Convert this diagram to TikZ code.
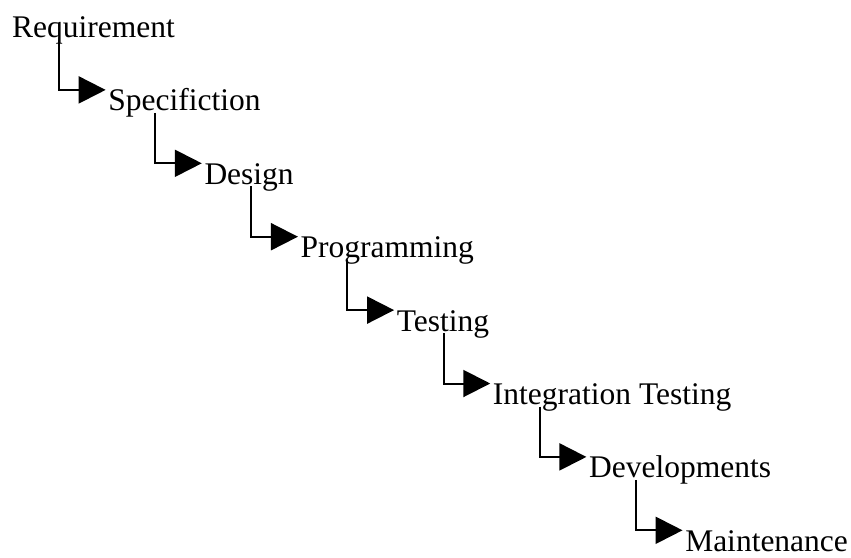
\documentclass[tikz,border=0pt]{standalone}
\usepackage{fontspec}
\setmainfont{Liberation Serif}
\usetikzlibrary{arrows.meta}
\tikzset{
  stage/.style={anchor=base west, inner sep=0pt, font=\fontsize{31.5}{36}\selectfont},
  flow/.style={draw, line width=2pt, -{Triangle[length=27pt,width=27pt]}},
}

\begin{document}
\begin{tikzpicture}[x=1pt, y=-1pt]
\useasboundingbox (0,0) rectangle (851,557);
\foreach[count=\k from 0] \name/\txt in {req/Requirement, spec/Specifiction, des/Design,
    prog/Programming, test/Testing, integ/Integration Testing, dev/Developments, maint/Maintenance} {
  \node[stage] (\name) at (12+96.15*\k, 37.5+73.4*\k) {\txt};
}
\foreach \a/\b in {req/spec, spec/des, des/prog, prog/test, test/integ, integ/dev, dev/maint}
  \draw[flow] ([shift={(47,2)}]\a.base west) |- ([shift={(-2.5,-21)}]\b.base west);
\end{tikzpicture}
\end{document}
